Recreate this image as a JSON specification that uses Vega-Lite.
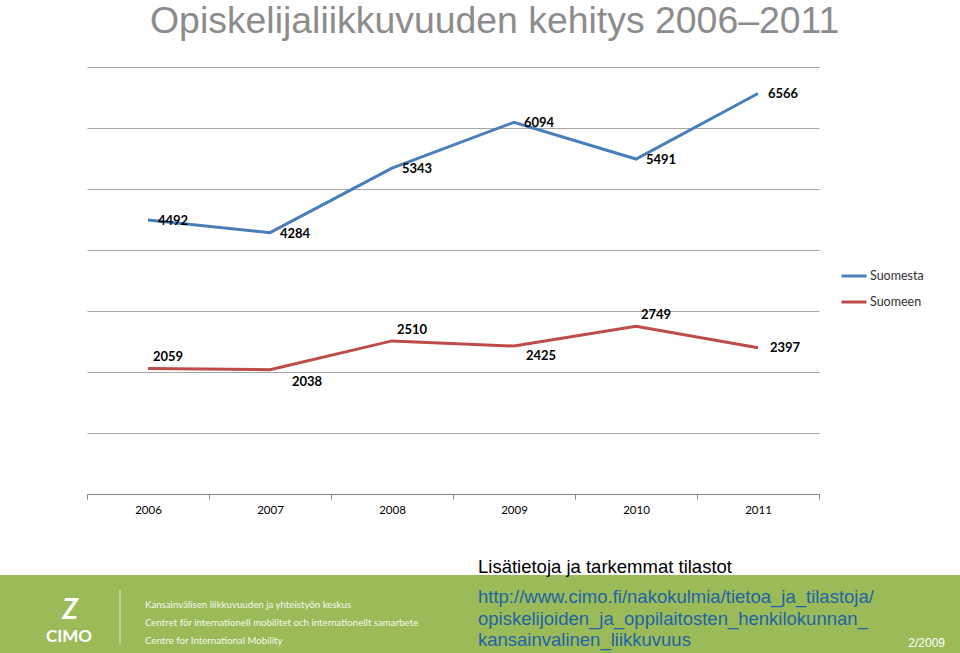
{
  "$schema": "https://vega.github.io/schema/vega-lite/v6.json",
  "padding": {"left": 0, "top": 2, "right": 0, "bottom": 0},
  "background": "white",
  "spacing": 42,
  "config": {"view": {"stroke": null}, "font": "Lato"},
  "vconcat": [
    {
      "width": 732,
      "height": 427,
      "title": {
        "text": "Opiskelijaliikkuvuuden kehitys 2006–2011",
        "anchor": "start",
        "frame": "group",
        "dx": 63,
        "font": "Liberation Sans",
        "fontSize": 37.4,
        "fontWeight": "normal",
        "color": "#8c8c8c",
        "baseline": "top",
        "offset": 27
      },
      "data": {
        "values": [
          {"year": "2006", "series": "Suomesta", "value": 4492},
          {"year": "2007", "series": "Suomesta", "value": 4284},
          {"year": "2008", "series": "Suomesta", "value": 5343},
          {"year": "2009", "series": "Suomesta", "value": 6094},
          {"year": "2010", "series": "Suomesta", "value": 5491},
          {"year": "2011", "series": "Suomesta", "value": 6566},
          {"year": "2006", "series": "Suomeen", "value": 2059},
          {"year": "2007", "series": "Suomeen", "value": 2038},
          {"year": "2008", "series": "Suomeen", "value": 2510},
          {"year": "2009", "series": "Suomeen", "value": 2425},
          {"year": "2010", "series": "Suomeen", "value": 2749},
          {"year": "2011", "series": "Suomeen", "value": 2397}
        ]
      },
      "encoding": {
        "x": {
          "field": "year",
          "type": "ordinal",
          "scale": {"type": "band", "paddingInner": 0, "paddingOuter": 0},
          "axis": {
            "title": null,
            "tickBand": "extent",
            "grid": false,
            "labelAngle": 0,
            "domainColor": "#868686",
            "tickColor": "#868686",
            "tickSize": 5,
            "labelFont": "Lato",
            "labelFontSize": 11.5,
            "labelColor": "#000000",
            "labelPadding": 5
          }
        },
        "y": {
          "field": "value",
          "type": "quantitative",
          "scale": {"domain": [0, 7000], "nice": false},
          "axis": {
            "title": null,
            "labels": false,
            "ticks": false,
            "domain": false,
            "grid": true,
            "gridColor": "#a6a6a6",
            "values": [0, 1000, 2000, 3000, 4000, 5000, 6000, 7000],
            "minExtent": 87,
            "maxExtent": 87
          }
        }
      },
      "layer": [
        {
          "mark": {"type": "line", "strokeWidth": 3},
          "encoding": {
            "color": {
              "field": "series",
              "type": "nominal",
              "scale": {"domain": ["Suomesta", "Suomeen"], "range": ["#4a7ebb", "#be4b48"]},
              "legend": {
                "orient": "none",
                "legendX": 753,
                "legendY": 195,
                "title": null,
                "symbolType": "stroke",
                "symbolSize": 625,
                "symbolStrokeWidth": 3,
                "labelFont": "Lato",
                "labelFontSize": 12.5,
                "labelColor": "#333333",
                "labelOffset": 2,
                "rowPadding": 5,
                "padding": 0
              }
            }
          }
        },
        {
          "transform": [{"filter": "datum.series === 'Suomesta'"}],
          "mark": {"type": "text", "align": "left", "baseline": "middle", "dx": 10, "dy": 1, "font": "Lato", "fontSize": 13, "fontWeight": "bold", "color": "#000000"},
          "encoding": {"text": {"field": "value", "type": "quantitative", "format": "d"}}
        },
        {
          "transform": [{"filter": "datum.series === 'Suomeen' && (datum.year === '2006' || datum.year === '2008' || datum.year === '2010')"}],
          "mark": {"type": "text", "align": "left", "baseline": "middle", "dx": 5, "dy": -11, "font": "Lato", "fontSize": 13, "fontWeight": "bold", "color": "#000000"},
          "encoding": {"text": {"field": "value", "type": "quantitative", "format": "d"}}
        },
        {
          "transform": [{"filter": "datum.series === 'Suomeen' && datum.year === '2007'"}],
          "mark": {"type": "text", "align": "left", "baseline": "middle", "dx": 22, "dy": 12, "font": "Lato", "fontSize": 13, "fontWeight": "bold", "color": "#000000"},
          "encoding": {"text": {"field": "value", "type": "quantitative", "format": "d"}}
        },
        {
          "transform": [{"filter": "datum.series === 'Suomeen' && datum.year === '2009'"}],
          "mark": {"type": "text", "align": "left", "baseline": "middle", "dx": 12, "dy": 10, "font": "Lato", "fontSize": 13, "fontWeight": "bold", "color": "#000000"},
          "encoding": {"text": {"field": "value", "type": "quantitative", "format": "d"}}
        },
        {
          "transform": [{"filter": "datum.series === 'Suomeen' && datum.year === '2011'"}],
          "mark": {"type": "text", "align": "left", "baseline": "middle", "dx": 12, "dy": 0, "font": "Lato", "fontSize": 13, "fontWeight": "bold", "color": "#000000"},
          "encoding": {"text": {"field": "value", "type": "quantitative", "format": "d"}}
        }
      ]
    },
    {
      "width": 873,
      "height": 78,
      "view": {"fill": null, "stroke": null},
      "data": {
        "values": [
          {"block": "band", "text": ""},
          {"block": "head", "text": "Lisätietoja ja tarkemmat tilastot"},
          {"block": "link", "text": "http://www.cimo.fi/nakokulmia/tietoa_ja_tilastoja/\nopiskelijoiden_ja_oppilaitosten_henkilokunnan_\nkansainvalinen_liikkuvuus"},
          {"block": "org", "text": "Kansainvälisen liikkuvuuden ja yhteistyön keskus\nCentret för internationell mobilitet och internationellt samarbete\nCentre for International Mobility"},
          {"block": "logo", "text": "CIMO"},
          {"block": "mark", "text": "Z"},
          {"block": "date", "text": "2/2009"}
        ]
      },
      "layer": [
        {
          "transform": [{"filter": "datum.block === 'band'"}],
          "mark": {"type": "rect", "color": "#9bbb59"},
          "encoding": {
            "x": {"datum": 0, "type": "quantitative", "scale": {"domain": [0, 960], "range": [-87, 873], "nice": false, "zero": false}, "axis": null},
            "x2": {"datum": 960},
            "y": {"datum": 0, "type": "quantitative", "scale": {"domain": [0, 78], "range": [0, 78], "nice": false, "zero": false}, "axis": null},
            "y2": {"datum": 78}
          }
        },
        {
          "transform": [{"filter": "datum.block === 'band'"}],
          "mark": {"type": "rule", "color": "#e8f0d8", "strokeWidth": 1, "opacity": 0.8},
          "encoding": {
            "x": {"datum": 120, "type": "quantitative"},
            "y": {"datum": 15, "type": "quantitative"},
            "y2": {"datum": 70}
          }
        },
        {
          "transform": [{"filter": "datum.block === 'head'"}],
          "mark": {"type": "text", "align": "left", "baseline": "alphabetic", "font": "Liberation Sans", "fontSize": 18.5, "color": "#000000"},
          "encoding": {
            "x": {"datum": 478, "type": "quantitative"},
            "y": {"datum": -2, "type": "quantitative"},
            "text": {"field": "text"}
          }
        },
        {
          "transform": [{"filter": "datum.block === 'link'"}],
          "mark": {"type": "text", "align": "left", "baseline": "alphabetic", "font": "Liberation Sans", "fontSize": 18.5, "lineHeight": 21.5, "lineBreak": "\n", "color": "#1f64a6"},
          "encoding": {
            "x": {"datum": 478, "type": "quantitative"},
            "y": {"datum": 28, "type": "quantitative"},
            "text": {"field": "text"}
          }
        },
        {
          "transform": [{"filter": "datum.block === 'org'"}],
          "mark": {"type": "text", "align": "left", "baseline": "alphabetic", "font": "Lato", "fontSize": 9.7, "lineHeight": 18, "lineBreak": "\n", "color": "#f4f8ec"},
          "encoding": {
            "x": {"datum": 145, "type": "quantitative"},
            "y": {"datum": 33, "type": "quantitative"},
            "text": {"field": "text"}
          }
        },
        {
          "transform": [{"filter": "datum.block === 'mark'"}],
          "mark": {"type": "text", "align": "center", "baseline": "alphabetic", "font": "Lato", "fontSize": 28, "fontWeight": "bold", "fontStyle": "italic", "color": "#ffffff"},
          "encoding": {
            "x": {"datum": 70, "type": "quantitative"},
            "y": {"datum": 44, "type": "quantitative"},
            "text": {"field": "text"}
          }
        },
        {
          "transform": [{"filter": "datum.block === 'logo'"}],
          "mark": {"type": "text", "align": "center", "baseline": "alphabetic", "font": "Lato", "fontSize": 17, "fontWeight": "bold", "color": "#ffffff"},
          "encoding": {
            "x": {"datum": 69, "type": "quantitative"},
            "y": {"datum": 67, "type": "quantitative"},
            "text": {"field": "text"}
          }
        },
        {
          "transform": [{"filter": "datum.block === 'date'"}],
          "mark": {"type": "text", "align": "right", "baseline": "alphabetic", "font": "Liberation Sans", "fontSize": 12, "color": "#ffffff"},
          "encoding": {
            "x": {"datum": 945, "type": "quantitative"},
            "y": {"datum": 72, "type": "quantitative"},
            "text": {"field": "text"}
          }
        }
      ]
    }
  ]
}
